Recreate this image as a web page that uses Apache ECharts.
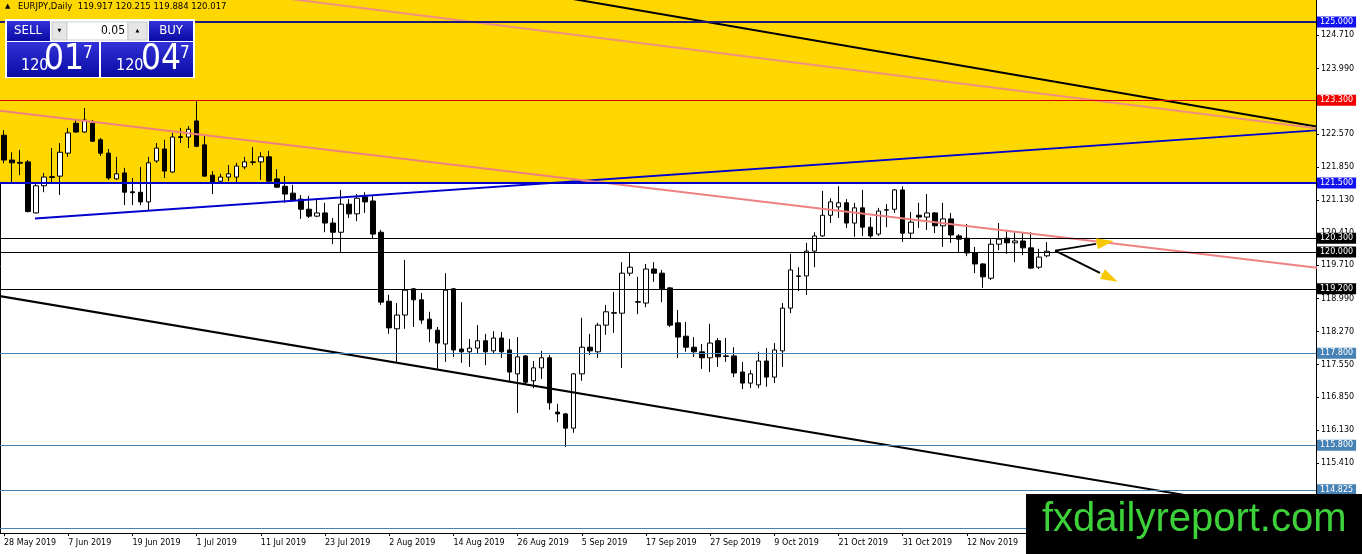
<!DOCTYPE html>
<html>
<head>
<meta charset="utf-8">
<title>EURJPY Daily</title>
<script src="https://cdn.jsdelivr.net/npm/echarts@6/dist/echarts.min.js"></script>
<style>
  html, body { margin: 0; padding: 0; background: #fff; }
  #main { width: 1362px; height: 554px; }
</style>
</head>
<body>
<div id="main"></div>
<script>
// one date label every 8 trading days (MT4 style)
var dateLabels = ['28 May 2019', '7 Jun 2019', '19 Jun 2019', '1 Jul 2019', '11 Jul 2019', '23 Jul 2019',
  '2 Aug 2019', '14 Aug 2019', '26 Aug 2019', '5 Sep 2019', '17 Sep 2019', '27 Sep 2019', '9 Oct 2019',
  '21 Oct 2019', '31 Oct 2019', '12 Nov 2019', '22 Nov 2019', '4 Dec 2019', '16 Dec 2019', '26 Dec 2019', '7 Jan 2020'];

// daily bars, MT4 order [open, high, low, close]
var ohlc = [
  [122.54,122.65,121.93,122.00],[122.00,122.17,121.52,121.94],[121.95,122.22,121.67,121.93],[121.96,122.00,120.86,120.88],
  [120.85,121.52,120.84,121.44],[121.44,121.72,121.30,121.63],[121.62,122.26,121.52,121.64],[121.65,122.37,121.24,122.17],
  [122.15,122.70,122.07,122.59],[122.80,122.87,122.59,122.61],[122.61,123.13,122.59,122.87],[122.80,122.87,122.39,122.41],
  [122.44,122.48,122.09,122.15],[122.15,122.24,121.57,121.61],[121.59,122.07,121.57,121.70],[121.72,121.83,121.02,121.30],
  [121.31,121.61,121.02,121.29],[121.30,121.85,121.02,121.09],[121.09,122.07,120.91,121.94],[121.98,122.37,121.94,122.26],
  [122.24,122.44,121.61,121.76],[121.74,122.59,121.72,122.50],[122.49,122.70,122.37,122.51],[122.50,122.74,122.26,122.67],
  [122.85,123.28,122.28,122.30],[122.33,122.54,121.65,121.65],[121.67,121.76,121.26,121.52],[121.54,121.70,121.52,121.63],
  [121.63,121.89,121.54,121.70],[121.63,121.94,121.48,121.87],[121.85,122.07,121.80,121.96],[121.96,122.28,121.89,121.95],
  [121.96,122.17,121.57,122.07],[122.07,122.20,121.48,121.54],[121.59,121.80,121.39,121.41],[121.43,121.65,121.07,121.26],
  [121.28,121.46,121.09,121.13],[121.15,121.24,120.72,120.93],[120.93,121.22,120.74,120.78],[120.78,121.15,120.76,120.85],
  [120.85,121.07,120.43,120.63],[120.63,120.74,120.17,120.43],[120.43,121.35,120.00,121.04],[121.04,121.15,120.74,120.83],
  [120.83,121.26,120.67,121.17],[121.20,121.30,120.85,121.09],[121.11,121.24,120.30,120.39],[120.43,120.48,118.85,118.91],
  [118.93,119.07,118.22,118.35],[118.33,118.89,117.61,118.63],[118.63,119.83,118.33,119.17],[119.20,119.22,118.37,118.96],
  [118.96,119.11,118.44,118.52],[118.54,118.70,118.04,118.33],[118.30,118.37,117.46,118.02],[118.00,119.54,117.61,119.17],
  [119.20,119.22,117.72,117.87],[117.89,118.91,117.59,117.83],[117.83,118.11,117.50,117.91],[117.91,118.41,117.80,118.07],
  [118.07,118.22,117.54,117.83],[117.85,118.28,117.80,118.13],[118.13,118.26,117.70,117.83],[117.87,118.11,117.17,117.39],
  [117.35,118.15,116.50,117.72],[117.74,117.76,117.13,117.17],[117.20,117.63,117.04,117.48],[117.48,117.85,117.24,117.70],
  [117.70,117.76,116.57,116.72],[116.52,116.70,116.30,116.48],[116.48,116.50,115.76,116.17],[116.17,117.37,116.07,117.35],
  [117.35,118.57,117.20,117.93],[117.93,118.22,117.76,117.85],[117.83,118.46,117.70,118.41],[118.41,118.85,118.20,118.70],
  [118.68,119.13,118.24,118.67],[118.67,119.78,117.48,119.54],[119.54,120.00,119.48,119.67],[118.92,119.46,118.65,118.91],
  [118.89,119.74,118.80,119.63],[119.63,119.78,119.35,119.54],[119.54,119.61,118.91,119.20],[119.22,119.24,118.37,118.41],
  [118.46,118.74,117.70,118.15],[118.17,118.48,117.83,117.93],[117.93,118.15,117.72,117.83],[117.83,118.00,117.46,117.70],
  [117.70,118.44,117.39,118.02],[118.07,118.13,117.50,117.72],[117.74,118.13,117.61,117.73],[117.74,117.93,117.28,117.37],
  [117.39,117.61,117.02,117.15],[117.15,117.43,117.04,117.35],[117.11,117.83,117.04,117.63],[117.63,117.91,117.07,117.28],
  [117.28,118.02,117.15,117.87],[117.85,118.89,117.50,118.78],[118.78,119.96,118.67,119.61],[119.47,119.67,119.15,119.48],
  [119.48,120.20,119.07,120.02],[120.02,120.43,119.67,120.35],[120.35,121.33,120.33,120.80],[120.80,121.17,120.63,121.09],
  [120.98,121.43,120.74,121.07],[121.07,121.15,120.52,120.63],[120.63,121.07,120.33,120.96],[120.96,121.35,120.35,120.54],
  [120.54,120.76,120.30,120.35],[120.39,120.96,120.35,120.89],[120.91,121.04,120.54,120.92],[120.93,121.37,120.85,121.35],
  [121.35,121.43,120.22,120.41],[120.41,120.87,120.30,120.65],[120.80,121.07,120.52,120.76],[120.76,121.26,120.48,120.85],
  [120.85,120.87,120.41,120.57],[120.57,121.07,120.11,120.72],[120.72,120.85,120.20,120.37],[120.35,120.39,120.00,120.28],
  [120.30,120.61,119.91,119.98],[119.98,120.11,119.54,119.74],[119.74,119.76,119.22,119.46],[119.43,120.28,119.39,120.17],
  [120.17,120.63,120.04,120.28],[120.30,120.48,119.96,120.20],[120.20,120.43,119.78,120.24],[120.24,120.43,119.93,120.09],
  [120.09,120.43,119.63,119.65],[119.67,120.07,119.63,119.89],[119.917,120.215,119.884,120.017]
];

var barCount = 164;          // slots on the time axis incl. empty right margin
var yMin = 113.89, yMax = 125.48;
var priceTicks = [124.71, 123.99, 123.27, 122.57, 121.85, 121.13, 120.41, 119.71, 118.99, 118.27, 117.55, 116.85, 116.13, 115.41];

// horizontal levels
var levelPrices = [125.0, 123.3, 121.5, 120.3, 120.0, 119.2, 117.8, 115.8, 114.825, 114.0];
var levelLineColors = ['#1f1a78', '#e00000', '#0000cd', '#000', '#000', '#000', '#4682b4', '#4682b4', '#4682b4', '#4682b4'];
var levelTagColors = ['#1212f0', '#f00000', '#1212f0', '#000', '#000', '#000', '#4682b4', '#4682b4', '#4682b4', '#4682b4'];
var levelWidths = [2, 1, 2, 1, 1, 1, 1, 1, 1, 1];
var zoneBottom = 121.5;      // yellow zone from here to top

// trend lines [fromBar, fromPrice, toBar, toPrice]
var trendLines = [
  [69.3, 125.55, 163.5, 122.73],
  [34.4, 125.53, 163.5, 122.69],
  [3.86, 120.73, 163.5, 122.645],
  [-1.5, 123.09, 164, 119.65],
  [-1.5, 119.07, 164, 114.22]
];
var trendColors = ['#000', '#f09080', '#0000cd', '#f08080', '#000'];

// projection arrows [fromBar, fromPrice, toBar, toPrice]
var arrows = [
  [130.98, 120.03, 138.25, 120.24],
  [130.98, 120.03, 138.96, 119.34]
];

var categories = [];
for (var i = 0; i < barCount; i++) categories.push(String(i));
var candleData = ohlc.map(function (r) { return [r[0], r[3], r[2], r[1]]; });
var last = ohlc[ohlc.length - 1];
var headerText = 'EURJPY,Daily  ' + last.map(function (v) { return v.toFixed(3); }).join(' ');

var axisFont = 'DejaVu Sans';
var narrow = '"Liberation Sans Narrow","DejaVu Sans Condensed","Liberation Sans",sans-serif';

var levelLines = levelPrices.map(function (p, k) {
  return {
    yAxis: p,
    lineStyle: { color: levelLineColors[k], width: levelWidths[k], type: 'solid' },
    label: {
      show: true, position: 'end', distance: 1,
      formatter: p.toFixed(3),
      color: '#fff', backgroundColor: levelTagColors[k],
      fontFamily: axisFont, fontSize: 8, padding: [2, 3, 1, 3]
    }
  };
});

var series = [{
  type: 'line', name: 'levels', data: [], z: 1, silent: true,
  markArea: {
    silent: true,
    itemStyle: { color: '#ffd700', opacity: 1 },
    data: [[{ yAxis: zoneBottom }, { yAxis: yMax }]]
  },
  markLine: { silent: true, symbol: ['none', 'none'], animation: false, data: levelLines }
}, {
  type: 'candlestick', name: 'EURJPY', z: 3, barWidth: 5,
  data: candleData,
  itemStyle: { color: '#fff', color0: '#000', borderColor: '#000', borderColor0: '#000', borderWidth: 1 }
}];

trendLines.forEach(function (t, k) {
  series.push({
    type: 'line', xAxisIndex: 1, z: 4, silent: true, symbol: 'none', clip: true,
    data: [[t[0], t[1]], [t[2], t[3]]],
    lineStyle: { color: trendColors[k], width: 2 }
  });
});

arrows.forEach(function (a) {
  // shaft stops where the head begins; head centre sits a little before the tip
  var mx = a[0] + (a[2] - a[0]) * 0.7, my = a[1] + (a[3] - a[1]) * 0.7;
  var hx = a[0] + (a[2] - a[0]) * 0.86, hy = a[1] + (a[3] - a[1]) * 0.86;
  series.push({
    type: 'line', xAxisIndex: 1, z: 5, silent: true, symbol: 'none',
    data: [[a[0], a[1]], [mx, my]],
    lineStyle: { color: '#000', width: 2 },
    markLine: {
      silent: true, symbol: ['none', 'triangle'], symbolSize: [11, 17], label: { show: false },
      lineStyle: { color: '#f5c800', width: 1, type: 'solid' },
      data: [[{ coord: [mx, my] }, { coord: [hx, hy] }]]
    }
  });
});

function blueGrad() {
  return new echarts.graphic.LinearGradient(0, 0, 0, 1, [
    { offset: 0, color: '#3232d8' }, { offset: 1, color: '#0a0aa4' }
  ]);
}

var graphic = [
  { type: 'text', x: 5, y: 3, z: 100, style: { text: '▲', font: '7px "DejaVu Sans"', fill: '#000' } },
  { type: 'text', x: 18, y: 2, z: 100, style: { text: headerText, font: '8.5px "DejaVu Sans"', fill: '#000' } },
  // trade panel
  { type: 'rect', z: 100, shape: { x: 5, y: 19, width: 190, height: 59 }, style: { fill: '#fff' } },
  { type: 'rect', z: 101, shape: { x: 7, y: 21, width: 43, height: 20 }, style: { fill: blueGrad() } },
  { type: 'text', z: 102, x: 28, y: 31, style: { text: 'SELL', font: '13px ' + narrow, fill: '#fff', align: 'center', verticalAlign: 'middle' } },
  { type: 'rect', z: 101, shape: { x: 52, y: 22, width: 15, height: 18 }, style: { fill: '#e6e6e6', stroke: '#c8c8c8' } },
  { type: 'text', z: 102, x: 59.5, y: 31, style: { text: '▼', font: '5px "DejaVu Sans"', fill: '#000', align: 'center', verticalAlign: 'middle' } },
  { type: 'rect', z: 101, shape: { x: 67, y: 22, width: 61, height: 18 }, style: { fill: '#fff', stroke: '#d0d0d0' } },
  { type: 'text', z: 102, x: 125, y: 31, style: { text: '0.05', font: '12px ' + narrow, fill: '#000', align: 'right', verticalAlign: 'middle' } },
  { type: 'rect', z: 101, shape: { x: 128, y: 22, width: 19, height: 18 }, style: { fill: '#e6e6e6', stroke: '#c8c8c8' } },
  { type: 'text', z: 102, x: 137.5, y: 31, style: { text: '▲', font: '5px "DejaVu Sans"', fill: '#000', align: 'center', verticalAlign: 'middle' } },
  { type: 'rect', z: 101, shape: { x: 149, y: 21, width: 44, height: 20 }, style: { fill: blueGrad() } },
  { type: 'text', z: 102, x: 171, y: 31, style: { text: 'BUY', font: '13px ' + narrow, fill: '#fff', align: 'center', verticalAlign: 'middle' } },
  { type: 'rect', z: 101, shape: { x: 7, y: 42, width: 92, height: 35 }, style: { fill: blueGrad() } },
  { type: 'rect', z: 101, shape: { x: 101, y: 42, width: 92, height: 35 }, style: { fill: blueGrad() } },
  { type: 'text', z: 102, x: 21, y: 74, style: { text: '120', font: '16px ' + narrow, fill: '#fff', verticalAlign: 'bottom' } },
  { type: 'text', z: 102, x: 44, y: 77, style: { text: '01', font: '35px ' + narrow, fill: '#fff', verticalAlign: 'bottom' } },
  { type: 'text', z: 102, x: 83, y: 45, style: { text: '7', font: '17px ' + narrow, fill: '#fff', verticalAlign: 'top' } },
  { type: 'text', z: 102, x: 116, y: 74, style: { text: '120', font: '16px ' + narrow, fill: '#fff', verticalAlign: 'bottom' } },
  { type: 'text', z: 102, x: 141, y: 77, style: { text: '04', font: '35px ' + narrow, fill: '#fff', verticalAlign: 'bottom' } },
  { type: 'text', z: 102, x: 180, y: 45, style: { text: '7', font: '17px ' + narrow, fill: '#fff', verticalAlign: 'top' } },
  // watermark
  { type: 'rect', z: 110, shape: { x: 1026, y: 494, width: 336, height: 60 }, style: { fill: '#000' } },
  { type: 'text', z: 111, x: 1042, y: 520, style: { text: 'fxdailyreport.com', font: '40px "Liberation Sans", Arial, sans-serif', fill: '#3dd13a', verticalAlign: 'middle' } }
];

var chart = echarts.init(document.getElementById('main'));
chart.setOption({
  animation: false,
  backgroundColor: '#fff',
  grid: { left: 0, right: 46, top: 0, bottom: 21, containLabel: false },
  xAxis: [{
    type: 'category', data: categories, boundaryGap: true,
    axisLine: { onZero: false, lineStyle: { color: '#000', width: 1 } },
    axisTick: { show: true, interval: 7, alignWithLabel: true, length: 3, lineStyle: { color: '#000' } },
    axisLabel: {
      interval: 7, align: 'left', margin: 6, color: '#000', fontFamily: axisFont, fontSize: 8,
      formatter: function (v, idx) { return dateLabels[Math.round(idx / 8)] || ''; }
    },
    splitLine: { show: false }
  }, {
    type: 'value', min: -0.5, max: barCount - 0.5, show: false
  }],
  yAxis: [{
    type: 'value', position: 'right', min: yMin, max: yMax,
    axisLine: { show: true, onZero: false, lineStyle: { color: '#000', width: 1 } },
    axisTick: { show: true, length: 3, customValues: priceTicks, lineStyle: { color: '#000' } },
    axisLabel: {
      customValues: priceTicks, margin: 5, color: '#000', fontFamily: axisFont, fontSize: 8,
      formatter: function (v) { return v.toFixed(3); }
    },
    splitLine: { show: false }
  }, {
    type: 'value', position: 'left', min: yMin, max: yMax,
    axisLine: { show: true, onZero: false, lineStyle: { color: '#000', width: 1 } },
    axisTick: { show: false }, axisLabel: { show: false }, splitLine: { show: false }
  }],
  series: series,
  graphic: graphic
});
</script>
</body>
</html>
